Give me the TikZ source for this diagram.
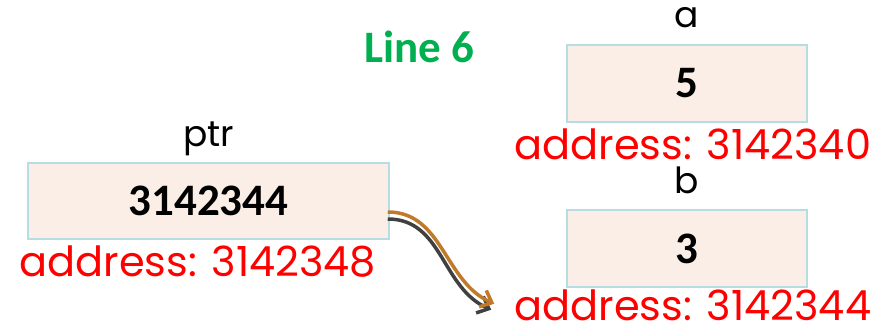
\documentclass[tikz,border=0pt]{standalone}
\usepackage{fontspec}
\setmainfont{Poppins}
\newfontfamily\numfont{Carlito}
\usepackage{tikz}
\usetikzlibrary{positioning,arrows.meta}
\definecolor{cellfill}{RGB}{251, 238, 230}
\definecolor{celledge}{RGB}{183, 221, 228}
\definecolor{addrred}{RGB}{255, 0, 0}
\definecolor{linegreen}{RGB}{0, 176, 80}
\definecolor{ptrorange}{RGB}{192, 122, 42}
\definecolor{ptrshadow}{RGB}{64, 64, 64}
\tikzstyle{cell} = [rectangle, draw=celledge, line width=1.5pt, fill=cellfill, inner sep=0pt, font=\numfont\bfseries\fontsize{45}{50}\selectfont]
\tikzstyle{varname} = [draw=none, fill=none, inner sep=0pt, font=\fontsize{36}{40}\selectfont]
\tikzstyle{addr} = [draw=none, fill=none, inner sep=0pt, text=addrred, text depth=0pt, font=\fontsize{41.5}{45}\selectfont]
\tikzstyle{pedge} = [line width=3.5pt, -{Straight Barb[length=10pt, width=18pt]}]

\begin{document}
\begin{tikzpicture}[x=1pt, y=1pt]
\useasboundingbox (0,0) rectangle (884,-328);

% memory cells ===========================
\node[cell, minimum width=361pt, minimum height=76pt] (ptr) at (208.5,-201) {3142344};
\node[cell, minimum width=240pt, minimum height=77pt] (a) at (687,-83.5) {5};
\node[cell, minimum width=240pt, minimum height=77pt] (b) at (687,-248.5) {3};

% names and addresses
\node[varname, above=16pt of ptr, anchor=base] (ptrname) {ptr};
\node[varname, above=17pt of a, anchor=base] (aname) {a};
\node[varname, above=16pt of b, anchor=base] (bname) {b};
\node[addr, below=37pt of ptr.south west, anchor=base west, xshift=-8pt] (ptraddr) {address: 3142348};
\node[addr, below=37pt of a.south west, anchor=base west, xshift=-52pt] (aaddr) {address: 3142340};
\node[addr, below=33pt of b.south west, anchor=base west, xshift=-52pt] (baddr) {address: 3142344};

\node[text=linegreen, font=\numfont\bfseries\fontsize{45}{50}\selectfont] (step) at (419,-47) {Line 6};

% pointer edge
\draw[pedge, ptrshadow] ([shift={(-2pt,-18pt)}]ptr.east) .. controls +(55pt,0pt) and +(-50pt,22pt) .. ([shift={(-75pt,-22pt)}]b.south west);
\draw[pedge, ptrorange] ([shift={(-2pt,-11pt)}]ptr.east) .. controls +(55pt,0pt) and +(-50pt,22pt) .. ([shift={(-72pt,-16pt)}]b.south west);

\end{tikzpicture}
\end{document}
